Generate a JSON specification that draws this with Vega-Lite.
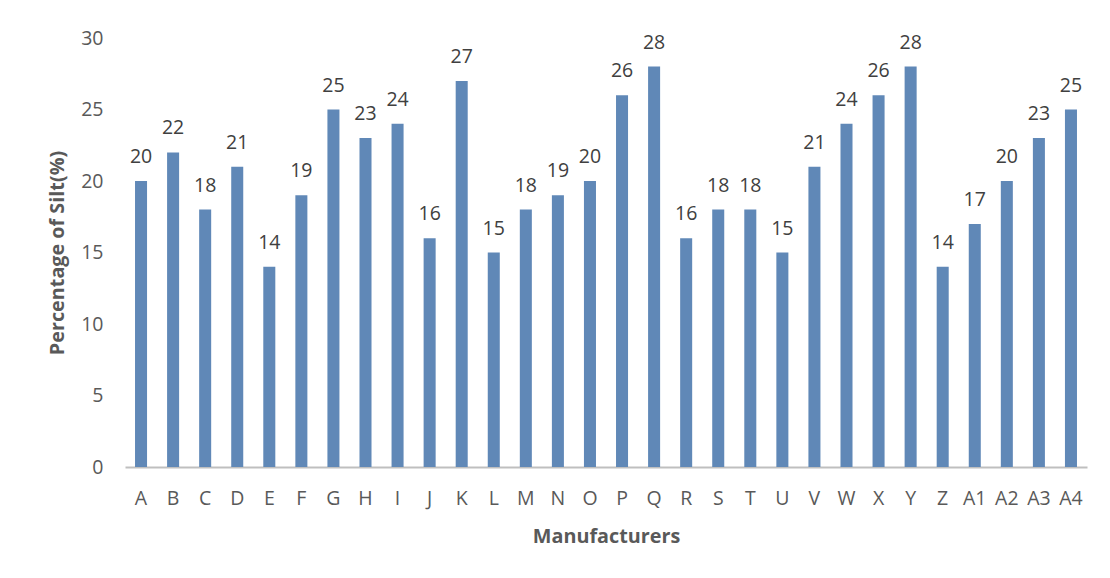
{
  "$schema": "https://vega.github.io/schema/vega-lite/v6.json",
  "width": 962,
  "height": 429,
  "autosize": {"type": "none"},
  "padding": {"left": 125, "top": 38, "right": 23, "bottom": 111},
  "background": "white",
  "config": {
    "view": {"stroke": null},
    "font": "Open Sans",
    "axis": {"labelFont": "Open Sans", "titleFont": "Open Sans", "labelColor": "#595959", "titleColor": "#595959"}
  },
  "data": {
    "values": [
      {"m": "A", "v": 20}, {"m": "B", "v": 22}, {"m": "C", "v": 18}, {"m": "D", "v": 21},
      {"m": "E", "v": 14}, {"m": "F", "v": 19}, {"m": "G", "v": 25}, {"m": "H", "v": 23},
      {"m": "I", "v": 24}, {"m": "J", "v": 16}, {"m": "K", "v": 27}, {"m": "L", "v": 15},
      {"m": "M", "v": 18}, {"m": "N", "v": 19}, {"m": "O", "v": 20}, {"m": "P", "v": 26},
      {"m": "Q", "v": 28}, {"m": "R", "v": 16}, {"m": "S", "v": 18}, {"m": "T", "v": 18},
      {"m": "U", "v": 15}, {"m": "V", "v": 21}, {"m": "W", "v": 24}, {"m": "X", "v": 26},
      {"m": "Y", "v": 28}, {"m": "Z", "v": 14}, {"m": "A1", "v": 17}, {"m": "A2", "v": 20},
      {"m": "A3", "v": 23}, {"m": "A4", "v": 25}
    ]
  },
  "encoding": {
    "x": {
      "field": "m", "type": "nominal", "sort": null,
      "scale": {"paddingInner": 0.625, "paddingOuter": 0.3125},
      "axis": {
        "title": "Manufacturers", "labelAngle": 0, "labelFontSize": 19.5, "labelPadding": 22,
        "ticks": false, "domainColor": "#bfbfbf", "domainWidth": 2,
        "titleFontSize": 19.8, "titleFontWeight": "bold", "titlePadding": 19
      }
    },
    "y": {
      "field": "v", "type": "quantitative",
      "scale": {"domain": [0, 30]},
      "axis": {
        "title": "Percentage of Silt(%)", "values": [0, 5, 10, 15, 20, 25, 30],
        "labelFontSize": 19.5, "labelPadding": 22, "ticks": false, "domain": false, "grid": false,
        "titleFontSize": 19.8, "titleFontWeight": "bold", "titlePadding": 13
      }
    }
  },
  "layer": [
    {"mark": {"type": "bar", "color": "#6088b7"}},
    {
      "mark": {"type": "text", "baseline": "alphabetic", "dy": -18, "fontSize": 19.5, "color": "#404040", "font": "Open Sans"},
      "encoding": {"text": {"field": "v", "type": "quantitative"}}
    }
  ]
}
